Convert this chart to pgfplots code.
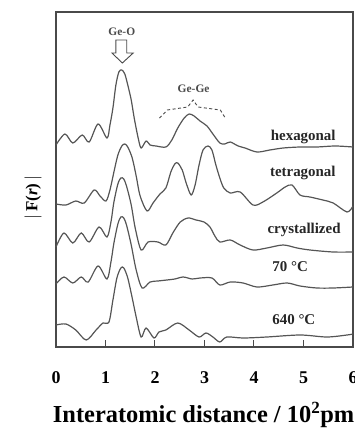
\documentclass[border=0pt]{standalone}
\usepackage{fontspec}
\setmainfont{Liberation Serif}
\usepackage{pgfplots}
\pgfplotsset{compat=1.18}
\definecolor{curve}{HTML}{555555}
\definecolor{axc}{HTML}{4A4A4A}
\tikzset{fr/.style={curve, line width=1.2bp, smooth, tension=0.5, mark=none}}
\begin{document}
\begin{tikzpicture}
\begin{axis}[
  scale only axis, width=297bp, height=335bp,
  xmin=0, xmax=6, ymin=0, ymax=335,
  axis line style={axc, line width=1.2bp},
  xtick={0,1,2,3,4,5,6}, ytick=\empty,
  xtick pos=bottom, tick align=inside,
  major tick length=7bp,
  every tick/.style={axc, line width=1bp},
  /pgf/number format/assume math mode=true,
  xticklabel style={font=\bfseries\fontsize{18}{18}\selectfont, yshift=-21bp},
  xlabel={Interatomic distance / 10\textsuperscript{2}pm},
  xlabel style={font=\bfseries\fontsize{24.5}{26}\selectfont, at={(axis description cs:0.497,-0.203)}, anchor=center},
  ylabel={$|$\,F(\textit{r})\,$|$},
  ylabel style={font=\bfseries\fontsize{17}{19}\selectfont, at={(axis description cs:-0.077,0.446)}, anchor=center},
  clip=false,
]
% hexagonal
\addplot[fr] coordinates {(0.00,202)(0.18,213)(0.34,204)(0.53,212)(0.67,205)(0.85,223)(1.03,209)(1.09,222)(1.15,239)(1.21,262)(1.27,275)(1.33,277)(1.39,273)(1.45,262)(1.52,247)(1.58,229)(1.66,209)(1.72,199)(1.82,206)(1.90,202)(2.02,201)(2.22,200)(2.34,207)(2.46,219)(2.59,229)(2.69,233)(2.79,231)(2.91,226)(3.05,221)(3.17,213)(3.31,204)(3.41,203)(3.52,205)(3.68,201)(3.82,199)(4.06,195)(4.32,197)(4.59,199)(4.93,200)(5.27,200)(5.64,201)(6.00,200)};
% tetragonal
\addplot[fr] coordinates {(0,143)(0.20,142)(0.40,146)(0.57,144)(0.77,157)(0.89,151)(1.01,146)(1.09,157)(1.17,175)(1.25,192)(1.33,201)(1.39,203)(1.45,200)(1.54,189)(1.62,171)(1.70,151)(1.84,136)(1.96,144)(2.10,153)(2.22,159)(2.32,175)(2.40,183)(2.46,184)(2.55,177)(2.63,164)(2.73,152)(2.81,162)(2.89,182)(2.97,197)(3.07,201)(3.15,197)(3.23,182)(3.31,169)(3.39,159)(3.52,154)(3.72,155)(3.98,142)(4.18,145)(4.46,154)(4.63,160)(4.77,162)(4.93,152)(5.13,150)(5.39,147)(5.60,144)(5.88,135)(6.00,141)};
% crystallized
\addplot[fr] coordinates {(0,100)(0.16,114)(0.34,104)(0.51,114)(0.67,105)(0.87,120)(1.03,110)(1.11,125)(1.17,145)(1.25,163)(1.31,169)(1.37,168)(1.43,160)(1.52,142)(1.60,119)(1.72,97)(1.86,105)(2.06,105)(2.22,102)(2.36,114)(2.51,125)(2.67,129)(2.83,127)(2.99,125)(3.11,120)(3.21,111)(3.31,105)(3.52,107)(3.72,102)(3.98,97)(4.26,99)(4.59,102)(4.87,99)(5.13,97)(5.60,95)(6.00,95)};
% 70 C
\addplot[fr] coordinates {(0,63)(0.16,70)(0.34,64)(0.51,70)(0.65,65)(0.85,81)(1.03,68)(1.11,85)(1.17,104)(1.25,123)(1.31,130)(1.37,129)(1.43,121)(1.52,102)(1.62,77)(1.74,59)(1.90,65)(2.06,66)(2.24,67)(2.40,68)(2.57,70)(2.75,68)(2.91,69)(3.15,69)(3.31,62)(3.52,65)(3.78,64)(4.06,60)(4.38,62)(4.67,64)(4.93,61)(5.27,59)(5.60,59)(6.00,60)};
% 640 C
\addplot[fr] coordinates {(0,22)(0.20,23)(0.40,17)(0.61,7)(0.81,17)(0.95,24)(1.07,25)(1.15,47)(1.23,69)(1.31,79)(1.37,79)(1.45,69)(1.54,49)(1.62,30)(1.72,10)(1.82,19)(1.98,9)(2.08,15)(2.22,17)(2.46,24)(2.69,17)(2.89,10)(3.03,14)(3.17,10)(3.31,5)(3.45,10)(3.78,9)(4.26,10)(4.93,12)(5.47,10)(5.88,12)(6.00,13)};
% annotations
\node[font=\bfseries\fontsize{11.5}{13}\selectfont, text=axc] at (axis cs:1.33,315) {Ge-O};
\draw[axc, line width=0.9bp, fill=white] (axis cs:1.21,307) -- (axis cs:1.43,307) -- (axis cs:1.43,294) -- (axis cs:1.56,294) -- (axis cs:1.34,284) -- (axis cs:1.13,294) -- (axis cs:1.21,294) -- cycle;
\node[font=\bfseries\fontsize{11.5}{13}\selectfont, text=axc] at (axis cs:2.78,258) {Ge-Ge};
\draw[axc, line width=0.9bp, dash pattern=on 3bp off 2.5bp] (axis cs:2.09,229) -- (axis cs:2.25,237) -- (axis cs:2.66,240) -- (axis cs:2.77,247) -- (axis cs:2.87,240) -- (axis cs:3.32,237) -- (axis cs:3.42,229);
\node[font=\bfseries\fontsize{15}{17}\selectfont, text=black!85, anchor=east] at (axis cs:5.72,210) {hexagonal};
\node[font=\bfseries\fontsize{15}{17}\selectfont, text=black!85, anchor=east] at (axis cs:5.72,174) {tetragonal};
\node[font=\bfseries\fontsize{15}{17}\selectfont, text=black!85, anchor=east] at (axis cs:5.82,117) {crystallized};
\node[font=\bfseries\fontsize{15}{17}\selectfont, text=black!85, anchor=west] at (axis cs:4.30,80) {70 °C};
\node[font=\bfseries\fontsize{15}{17}\selectfont, text=black!85, anchor=west] at (axis cs:4.30,27) {640 °C};
\end{axis}
\pgfresetboundingbox
\useasboundingbox (-56bp,-81bp) rectangle (299bp,347bp);
\end{tikzpicture}
\end{document}
